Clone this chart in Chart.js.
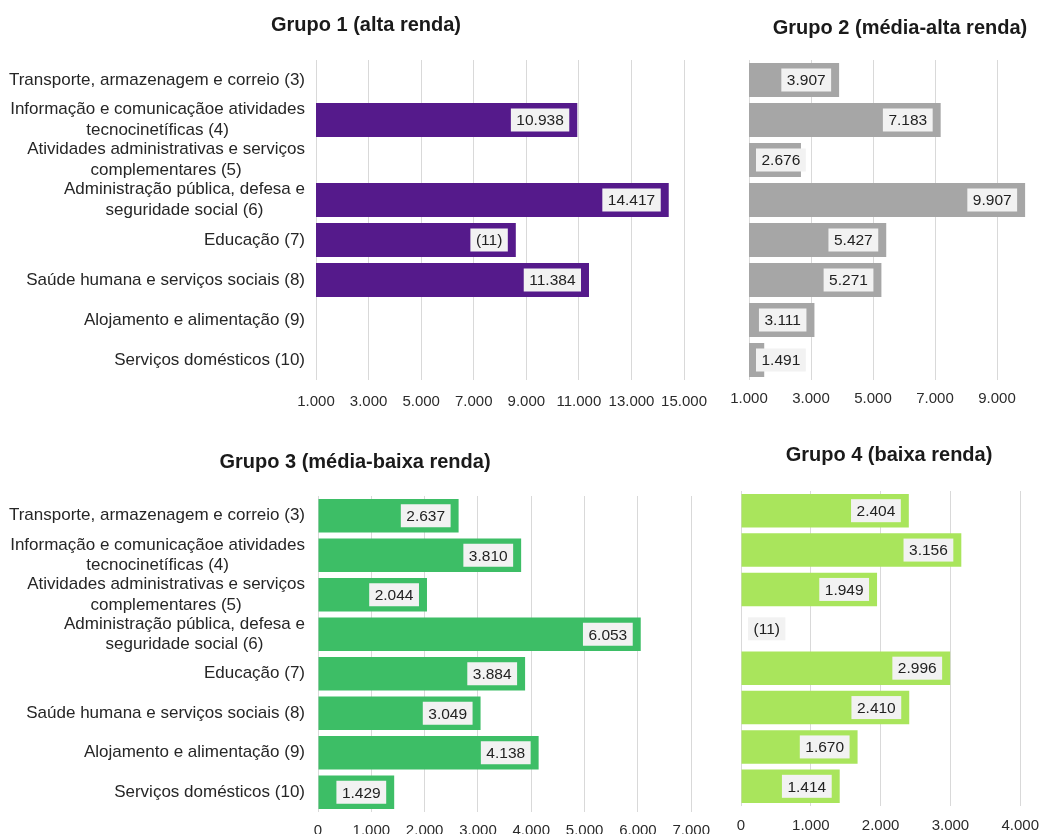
<!DOCTYPE html>
<html>
<head>
<meta charset="utf-8">
<script src="https://cdn.jsdelivr.net/npm/chart.js@4"></script>
<style>
  body { margin: 0; background: #fff; width: 1050px; height: 834px; overflow: hidden; position: relative; }
  .panel { position: absolute; }
</style>
</head>
<body>
<div class="panel" style="left:0;top:0;width:720px;height:420px"><canvas id="c1"></canvas></div>
<div class="panel" style="left:720px;top:0;width:330px;height:420px"><canvas id="c2"></canvas></div>
<div class="panel" style="left:0;top:420px;width:720px;height:414px"><canvas id="c3"></canvas></div>
<div class="panel" style="left:720px;top:420px;width:330px;height:414px"><canvas id="c4"></canvas></div>
<script>
// categorias (linhas quebradas como no original)
const categories = [
  ['Transporte, armazenagem e correio (3)'],
  ['Informação e comunicaçãoe atividades', 'tecnocinetíficas (4)'],
  ['Atividades administrativas e serviços', 'complementares (5)'],
  ['Administração pública, defesa e', 'seguridade social (6)'],
  ['Educação (7)'],
  ['Saúde humana e serviços sociais (8)'],
  ['Alojamento e alimentação (9)'],
  ['Serviços domésticos (10)']
];

const grupo1 = [null, 10938, null, 14417, 8600, 11384, null, null];
const grupo1Notes = [null, null, null, null, '(11)', null, null, null];
const grupo2 = [3907, 7183, 2676, 9907, 5427, 5271, 3111, 1491];
const grupo3 = [2637, 3810, 2044, 6053, 3884, 3049, 4138, 1429];
const grupo4 = [2404, 3156, 1949, null, 2996, 2410, 1670, 1414];
const grupo4Notes = [null, null, null, '(11)', null, null, null, null];

const ticks1 = [1000, 3000, 5000, 7000, 9000, 11000, 13000, 15000];
const ticks2 = [1000, 3000, 5000, 7000, 9000];
const ticks3 = [0, 1000, 2000, 3000, 4000, 5000, 6000, 7000];
const ticks4 = [0, 1000, 2000, 3000, 4000];

const FONT = "'Liberation Sans', Arial, sans-serif";
const fmt = v => String(v).replace(/\B(?=(\d{3})+(?!\d))/g, '.');

const panelTitle = {
  id: 'panelTitle',
  afterDraw(chart, args, opts) {
    const ctx = chart.ctx;
    ctx.save();
    ctx.font = 'bold 20px ' + FONT;
    ctx.fillStyle = '#1a1a1a';
    ctx.textAlign = 'center';
    ctx.textBaseline = 'middle';
    ctx.fillText(opts.text, opts.x, opts.y);
    ctx.restore();
  }
};

const catLabels = {
  id: 'catLabels',
  afterDraw(chart, args, opts) {
    const ctx = chart.ctx, ys = chart.scales.y;
    ctx.save();
    ctx.font = '17px ' + FONT;
    ctx.fillStyle = '#262626';
    ctx.textAlign = 'center';
    ctx.textBaseline = 'middle';
    categories.forEach((lines, i) => {
      const cy = ys.getPixelForValue(i);
      const w = Math.max(...lines.map(l => ctx.measureText(l).width));
      const cx = opts.right - w / 2;
      lines.forEach((l, j) => {
        ctx.fillText(l, cx, cy + (j - (lines.length - 1) / 2) * 20.5);
      });
    });
    ctx.restore();
  }
};

const barLabels = {
  id: 'barLabels',
  afterDatasetsDraw(chart) {
    const ctx = chart.ctx, xs = chart.scales.x, ys = chart.scales.y;
    const ds = chart.data.datasets[0];
    const base = xs.getPixelForValue(xs.min);
    ctx.save();
    ctx.font = '15.5px ' + FONT;
    ctx.textAlign = 'center';
    ctx.textBaseline = 'middle';
    ds.data.forEach((v, i) => {
      const text = (ds.notes && ds.notes[i]) || (v == null ? null : fmt(v));
      if (!text) return;
      const end = v == null ? base : xs.getPixelForValue(v);
      const w = ctx.measureText(text).width + 11;
      let left = end - 8 - w;
      if (left < base + 7) left = base + 7;
      const cy = ys.getPixelForValue(i);
      ctx.fillStyle = '#f2f2f2';
      ctx.fillRect(left, cy - 11.5, w, 23);
      ctx.fillStyle = '#222';
      ctx.fillText(text, left + w / 2, cy + 1);
    });
    ctx.restore();
  }
};

function makeChart(id, values, notes, color, tickVals, min, max, o) {
  return new Chart(document.getElementById(id), {
    type: 'bar',
    data: {
      labels: categories.map(c => c.join(' ')),
      datasets: [{
        data: values,
        notes: notes,
        backgroundColor: color,
        barPercentage: 0.85,
        categoryPercentage: 1
      }]
    },
    options: {
      indexAxis: 'y',
      responsive: true,
      maintainAspectRatio: false,
      animation: false,
      layout: { padding: o.padding },
      plugins: {
        legend: { display: false },
        tooltip: { enabled: false },
        panelTitle: o.title,
        catLabels: { right: o.labelRight }
      },
      scales: {
        x: {
          min: min,
          max: max,
          afterBuildTicks: s => { s.ticks = tickVals.map(v => ({ value: v })); },
          afterFit: s => { s.height = o.xHeight; },
          grid: { color: '#d9d9d9', drawTicks: false },
          border: { display: false },
          ticks: {
            callback: v => fmt(v),
            color: '#2b2b2b',
            font: { family: FONT, size: 15 },
            padding: o.tickPad,
            maxRotation: 0,
            autoSkip: false
          }
        },
        y: {
          display: o.yWidth > 0,
          afterFit: s => { s.width = o.yWidth; },
          grid: { display: false },
          border: { display: false },
          ticks: { display: false }
        }
      }
    },
    plugins: o.yWidth > 0 ? [panelTitle, catLabels, barLabels] : [panelTitle, barLabels]
  });
}

makeChart('c1', grupo1, grupo1Notes, '#551a8b', ticks1, 1000, 15000, {
  padding: { top: 60, right: 31, bottom: 0, left: 0 },
  yWidth: 316, labelRight: 305, xHeight: 40, tickPad: 13,
  title: { text: 'Grupo 1 (alta renda)', x: 366, y: 25 }
});
makeChart('c2', grupo2, null, '#a6a6a6', ticks2, 1000, 10000, {
  padding: { top: 60, right: 22, bottom: 0, left: 29 },
  yWidth: 0, xHeight: 40, tickPad: 10,
  title: { text: 'Grupo 2 (média-alta renda)', x: 180, y: 28 }
});
makeChart('c3', grupo3, null, '#3dbe66', ticks3, 0, 7000, {
  padding: { top: 76, right: 24, bottom: 0, left: 0 },
  yWidth: 318, labelRight: 305, xHeight: 22, tickPad: 10,
  title: { text: 'Grupo 3 (média-baixa renda)', x: 355, y: 42 }
});
makeChart('c4', grupo4, grupo4Notes, '#a9e55c', ticks4, 0, 4000, {
  padding: { top: 71, right: 21, bottom: 0, left: 21 },
  yWidth: 0, xHeight: 28, tickPad: 11,
  title: { text: 'Grupo 4 (baixa renda)', x: 169, y: 35 }
});
</script>
</body>
</html>
